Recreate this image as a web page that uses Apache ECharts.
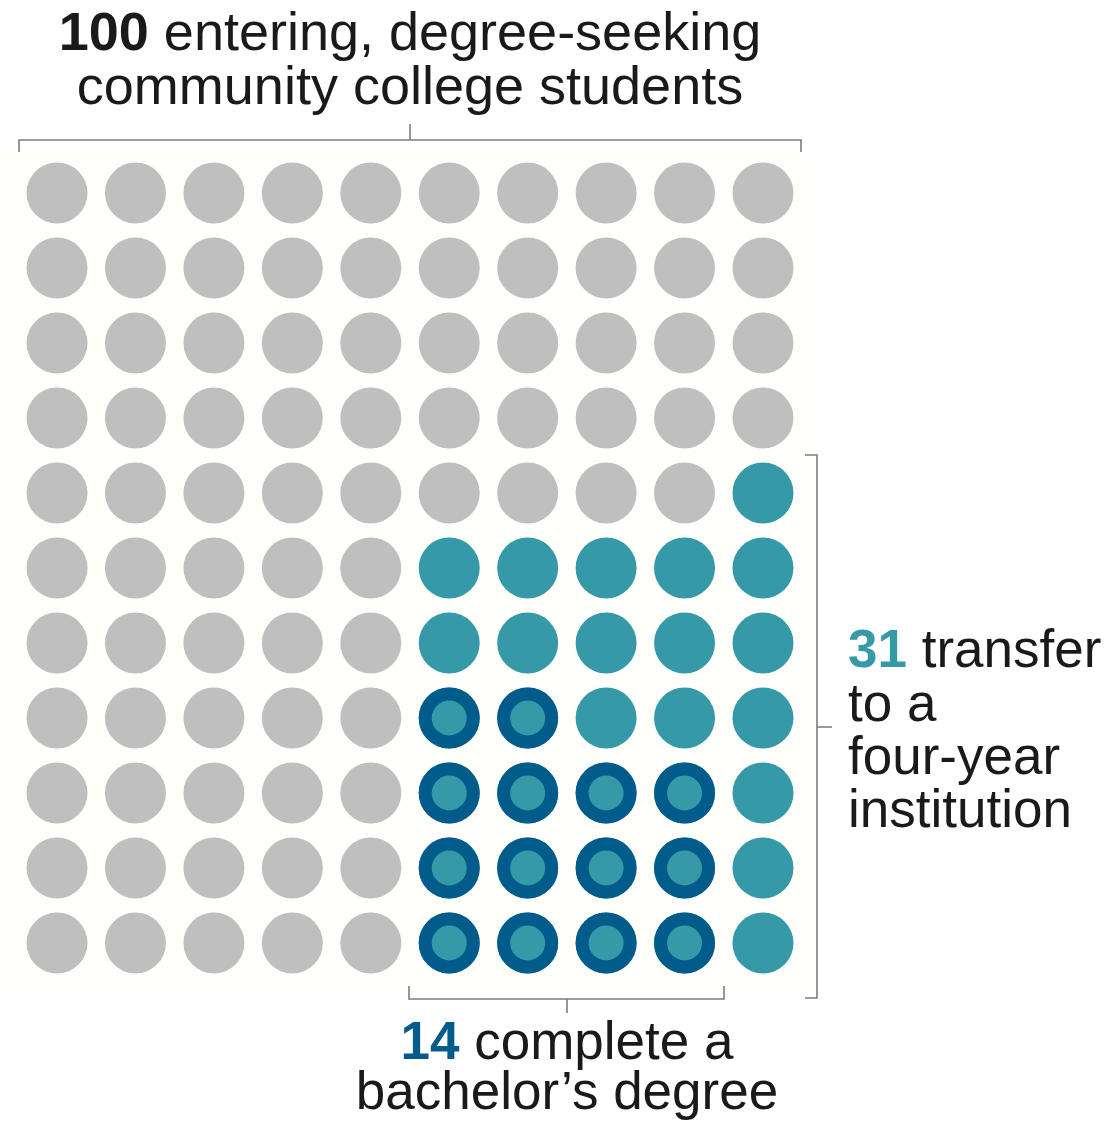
<!DOCTYPE html>
<html>
<head>
<meta charset="utf-8">
<script src="https://cdn.jsdelivr.net/npm/echarts@6/dist/echarts.min.js"></script>
<style>
html,body{margin:0;padding:0;background:#ffffff;}
#chart{width:1119px;height:1123px;}
</style>
</head>
<body>
<div id="chart"></div>
<script>
// Status per cell: 0 = did not transfer, 1 = transfer to four-year, 2 = transfer and complete bachelor's
const statusRows = [
  [0,0,0,0,0,0,0,0,0,0],
  [0,0,0,0,0,0,0,0,0,0],
  [0,0,0,0,0,0,0,0,0,0],
  [0,0,0,0,0,0,0,0,0,0],
  [0,0,0,0,0,0,0,0,0,1],
  [0,0,0,0,0,1,1,1,1,1],
  [0,0,0,0,0,1,1,1,1,1],
  [0,0,0,0,0,2,2,1,1,1],
  [0,0,0,0,0,2,2,2,2,1],
  [0,0,0,0,0,2,2,2,2,1],
  [0,0,0,0,0,2,2,2,2,1]
];
const titleNumber = '100';
const titleLine1 = 'entering, degree-seeking';
const titleLine2 = 'community college students';
const transferNumber = '31';
const transferLines = ['transfer', 'to a', 'four-year', 'institution'];
const bachelorNumber = '14';
const bachelorLines = ['complete a', 'bachelor\u2019s degree'];

const GRAY = '#bfbfbf', TEAL = '#3599a8', DARK = '#015b8b', INK = '#1a1a1a', LINE = '#7d7d7d';

const grayPts = [], transferPts = [], bachelorPts = [];
statusRows.forEach((row, r) => row.forEach((s, c) => {
  const p = [c + 1, r + 1];
  if (s === 0) grayPts.push(p);
  if (s >= 1) transferPts.push(p);
  if (s === 2) bachelorPts.push(p);
}));

const FONT = "'Liberation Sans', Arial, sans-serif";
function ln(pts){ return {type:'polyline', shape:{points:pts}, style:{stroke:LINE, lineWidth:1.6, fill:null}, z:5}; }
function mkRich(fs){
  return {
    nb:{fontFamily:FONT, fontSize:fs, fontWeight:'bold', fill:INK},
    nt:{fontFamily:FONT, fontSize:fs, fontWeight:'bold', fill:TEAL},
    nd:{fontFamily:FONT, fontSize:fs, fontWeight:'bold', fill:DARK},
    t:{fontFamily:FONT, fontSize:fs, fill:INK}
  };
}
function txt(x, y, text, align, fs){
  return {type:'text', x:x, y:y, z:10, style:{text:text, font: fs + 'px ' + FONT, fill:INK, align:align, verticalAlign:'middle', rich:mkRich(fs)}};
}

const chart = echarts.init(document.getElementById('chart'), null, {renderer:'canvas'});
chart.setOption({
  backgroundColor:'#ffffff',
  animation:false,
  grid:{left:17.8, width:784.4, top:155.5, height:825},
  xAxis:{type:'value', min:0.5, max:10.5, show:false},
  yAxis:{type:'value', min:0.5, max:11.5, inverse:true, show:false},
  series:[
    {type:'scatter', name:'Did not transfer', data:grayPts, symbol:'circle', symbolSize:61, itemStyle:{color:GRAY, opacity:1}, silent:true},
    {type:'scatter', name:'Transfer', data:transferPts, symbol:'circle', symbolSize:61, itemStyle:{color:TEAL, opacity:1}, silent:true},
    {type:'scatter', name:'Bachelor', data:bachelorPts, symbol:'circle', symbolSize:48, itemStyle:{color:TEAL, borderColor:DARK, borderWidth:13, opacity:1}, silent:true}
  ],
  graphic:[
    {type:'rect', shape:{x:0, y:152, width:812, height:846}, style:{fill:'#fefefa'}, z:-10},
    // top bracket
    ln([[19,152],[19,140],[801,140],[801,152]]),
    ln([[410,140],[410,124]]),
    // right bracket
    ln([[805,455],[817,455],[817,998],[805,998]]),
    ln([[817,727],[832,727]]),
    // bottom bracket
    ln([[409,986],[409,999],[724,999],[724,986]]),
    ln([[567,999],[567,1013]]),
    // title
    txt(410, 35, '{nb|' + titleNumber + '}{t| ' + titleLine1 + '}', 'center', 54),
    txt(410, 89, '{t|' + titleLine2 + '}', 'center', 54),
    // right label
    txt(848, 652, '{nt|' + transferNumber + '}{t| ' + transferLines[0] + '}', 'left', 53),
    txt(848, 706, '{t|' + transferLines[1] + '}', 'left', 53),
    txt(848, 759, '{t|' + transferLines[2] + '}', 'left', 53),
    txt(848, 812, '{t|' + transferLines[3] + '}', 'left', 53),
    // bottom label
    txt(567, 1044, '{nd|' + bachelorNumber + '}{t| ' + bachelorLines[0] + '}', 'center', 53),
    txt(567, 1094, '{t|' + bachelorLines[1] + '}', 'center', 53)
  ]
});
</script>
</body>
</html>
